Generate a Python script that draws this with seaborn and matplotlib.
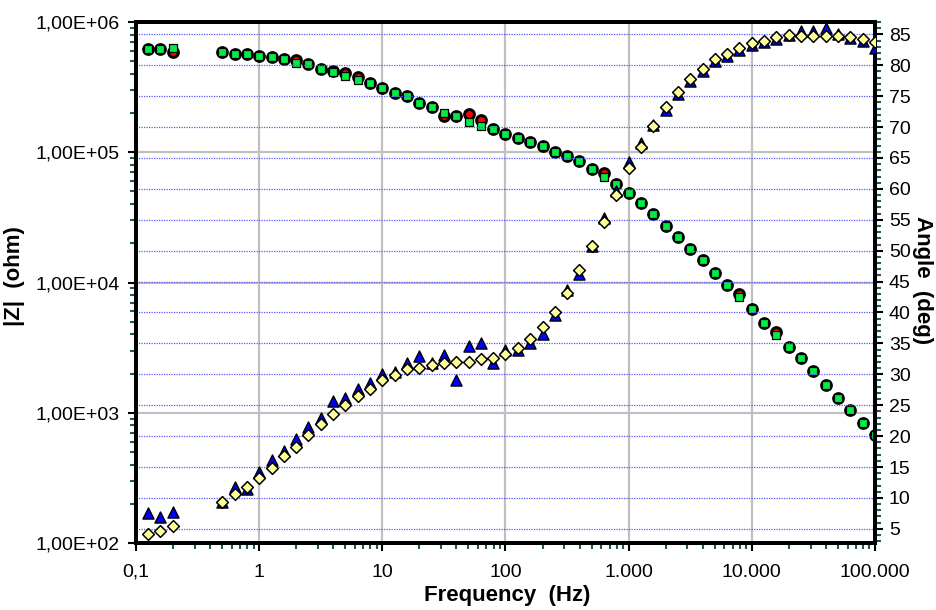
import pandas as pd
import matplotlib.pyplot as plt
import matplotlib.ticker as mticker
import seaborn as sns

# Dados (espectroscopia de impedância)
freq = [0.126, 0.158, 0.2,
        0.5, 0.631, 0.794,
        1, 1.26, 1.58, 2, 2.51, 3.16, 3.98, 5.01, 6.31, 7.94,
        10, 12.6, 15.8, 20, 25.1, 31.6, 39.8, 50.1, 63.1, 79.4,
        100, 126, 158, 200, 251, 316, 398, 501, 631, 794,
        1000, 1259, 1585, 1995, 2512, 3162, 3981, 5012, 6310, 7943,
        10000, 12589, 15849, 19953, 25119, 31623, 39811, 50119, 63096, 79433,
        100000]

z_verde = [6.24e5, 6.24e5, 6.27e5,
           5.85e5, 5.72e5, 5.65e5,
           5.48e5, 5.38e5, 5.17e5, 4.88e5, 4.73e5, 4.38e5, 4.11e5, 3.83e5, 3.59e5, 3.38e5,
           3.11e5, 2.86e5, 2.70e5, 2.40e5, 2.21e5, 1.99e5, 1.90e5, 1.72e5, 1.60e5, 1.50e5,
           1.38e5, 1.28e5, 1.19e5, 1.12e5, 1.01e5, 9.35e4, 8.6e4, 7.4e4, 6.49e4, 5.70e4,
           4.84e4, 4.06e4, 3.34e4, 2.73e4, 2.22e4, 1.82e4, 1.49e4, 1.18e4, 9.58e3, 7.7e3,
           6.22e3, 4.91e3, 3.93e3, 3.21e3, 2.62e3, 2.09e3, 1.63e3, 1.29e3, 1.05e3, 8.39e2,
           6.74e2]

z_vermelho = [6.24e5, 6.24e5, 5.92e5,
              5.85e5, 5.72e5, 5.65e5,
              5.48e5, 5.38e5, 5.17e5, 5.10e5, 4.73e5, 4.38e5, 4.23e5, 4.04e5, 3.80e5, 3.38e5,
              3.11e5, 2.86e5, 2.70e5, 2.40e5, 2.21e5, 1.90e5, 1.90e5, 1.96e5, 1.77e5, 1.50e5,
              1.38e5, 1.28e5, 1.19e5, 1.12e5, 1.01e5, 9.35e4, 8.6e4, 7.4e4, 6.96e4, 5.70e4,
              4.84e4, 4.06e4, 3.34e4, 2.73e4, 2.22e4, 1.82e4, 1.49e4, 1.18e4, 9.58e3, 8.17e3,
              6.22e3, 4.91e3, 4.19e3, 3.21e3, 2.62e3, 2.09e3, 1.63e3, 1.29e3, 1.05e3, 8.39e2,
              6.74e2]

ang_azul = [7.5, 6.9, 7.8,
            9.4, 11.8, 11.5,
            14.2, 16.1, 17.6, 19.6, 21.4, 22.9, 25.6, 26.1, 27.7, 28.6,
            30.0, 30.3, 31.8, 33.0, 31.8, 33.1, 29.0, 34.5, 35.0, 31.9,
            33.9, 34.0, 35.1, 36.6, 39.6, 43.6, 46.3, 50.7, 55.3, 59.7,
            64.3, 67.4, 70.4, 72.7, 75.3, 77.5, 79.1, 80.7, 81.5, 82.5,
            83.3, 83.7, 84.3, 84.9, 85.5, 85.5, 86.1, 85.0, 84.4, 84.0,
            82.8]

ang_amarelo = [4.1, 4.7, 5.4,
               9.3, 10.6, 11.8,
               13.3, 14.9, 16.8, 18.3, 20.1, 22.0, 23.5, 25.0, 26.5, 27.7,
               29.0, 29.9, 30.8, 31.1, 31.5, 31.8, 32.0, 32.0, 32.4, 32.7,
               33.3, 34.2, 35.7, 37.7, 40.0, 43.1, 46.9, 50.8, 54.7, 59.0,
               63.3, 66.8, 70.2, 73.2, 75.6, 77.8, 79.4, 81.0, 81.8, 82.8,
               83.6, 84.0, 84.5, 84.9, 84.8, 84.8, 84.8, 84.8, 84.5, 84.3,
               83.8]

x_ticks = [0.1, 1, 10, 100, 1000, 10000, 100000]
x_labels = ['0,1', '1', '10', '100', '1.000', '10.000', '100.000']
z_ticks = [1e2, 1e3, 1e4, 1e5, 1e6]
z_labels = ['1,00E+02', '1,00E+03', '1,00E+04', '1,00E+05', '1,00E+06']

df = pd.DataFrame({'freq': freq, 'z_verde': z_verde, 'z_vermelho': z_vermelho,
                   'ang_azul': ang_azul, 'ang_amarelo': ang_amarelo})

plt.rcParams['font.family'] = ['Liberation Sans', 'DejaVu Sans']
teal = '#1f5a5a'

fig, ax = plt.subplots(figsize=(9.36, 6.10), dpi=100)
fig.subplots_adjust(left=0.1453, right=0.9348, top=0.9639, bottom=0.1098)
ax2 = ax.twinx()

# |Z|
sns.scatterplot(data=df, x='freq', y='z_vermelho', ax=ax, marker='o', s=50,
                color='#ff0000', edgecolor='black', linewidth=2.1, legend=False, zorder=3)
sns.scatterplot(data=df, x='freq', y='z_verde', ax=ax, marker='s', s=30,
                color='#00ee44', edgecolor='black', linewidth=0.9, legend=False, zorder=4)

# Ângulo
sns.scatterplot(data=df, x='freq', y='ang_azul', ax=ax2, marker='^', s=64,
                color='#0000ff', edgecolor='black', linewidth=1.0, legend=False, zorder=3)
sns.scatterplot(data=df, x='freq', y='ang_amarelo', ax=ax2, marker='D', s=36,
                color='#ffff99', edgecolor='black', linewidth=1.1, legend=False, zorder=4)

ax.set_xscale('log')
ax.set_yscale('log')
ax.set_xlim(0.1, 100000)
ax.set_ylim(1e2, 1e6)
ax2.set_ylim(2.7, 87.0)

ax.set_xticks(x_ticks, x_labels)
ax.set_yticks(z_ticks, z_labels)
ax.xaxis.set_minor_locator(mticker.LogLocator(base=10, subs=range(2, 10), numticks=20))
ax.yaxis.set_minor_locator(mticker.LogLocator(base=10, subs=range(2, 10), numticks=20))
ax.xaxis.set_minor_formatter(mticker.NullFormatter())
ax.yaxis.set_minor_formatter(mticker.NullFormatter())
ax2.set_yticks(range(5, 90, 5))
ax2.yaxis.set_minor_locator(mticker.MultipleLocator(1))

ax.set_xlabel('')
ax.set_ylabel('')
ax2.set_ylabel('')

# grades
ax.set_axisbelow(True)
ax.grid(True, which='major', color='#c0c0c0', linewidth=1.6)
ax2.yaxis.grid(True, which='major', color='#5a5aff', linestyle=(0, (1, 1)), linewidth=0.9)

for a in (ax, ax2):
    for s in a.spines.values():
        s.set_linewidth(2.8)
        s.set_color('black')

ax.tick_params(axis='both', which='major', direction='out', length=6, width=1.5,
               color='black', labelsize=14, pad=6)
ax.tick_params(axis='both', which='minor', direction='out', length=4, width=1.5, color=teal)
ax.tick_params(axis='x', which='major', pad=9)
ax2.tick_params(axis='y', which='major', direction='out', length=6, width=1.5,
                color='black', labelsize=14, pad=4)
ax2.tick_params(axis='y', which='minor', direction='out', length=4, width=1.5, color=teal)

fig.text(507 / 936, 1 - 596 / 610, 'Frequency  (Hz)', ha='center', va='center',
         fontsize=16, fontweight='bold')
fig.text(15 / 936, 1 - 276 / 610, '|Z|  (ohm)', ha='center', va='center',
         rotation=90, fontsize=16, fontweight='bold')
fig.text(923 / 936, 1 - 280 / 610, 'Angle  (deg)', ha='center', va='center',
         rotation=-90, fontsize=16, fontweight='bold')

plt.savefig('out.png', dpi=100)
